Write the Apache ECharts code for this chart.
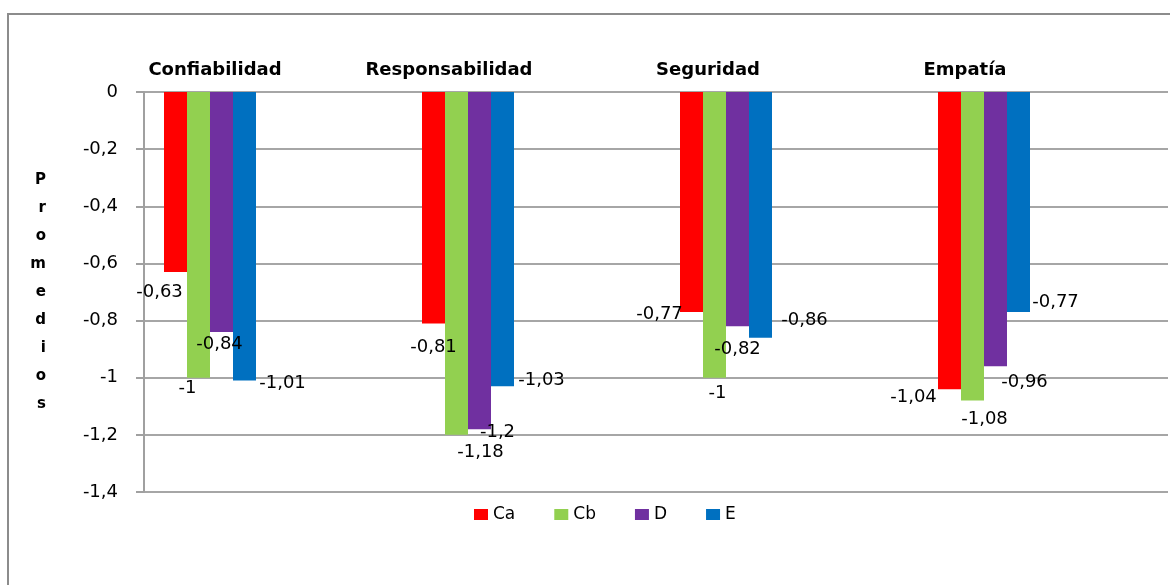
<!DOCTYPE html>
<html>
<head>
<meta charset="utf-8">
<script src="https://cdn.jsdelivr.net/npm/echarts@6/dist/echarts.min.js"></script>
<style>
  html, body { margin: 0; padding: 0; background: #ffffff; }
  #chart { width: 1170px; height: 585px; }
</style>
</head>
<body>
<div id="chart"></div>
<script>
// Dimensions of service quality
const categories = ['Confiabilidad', 'Responsabilidad', 'Seguridad', 'Empatía'];

// Average gap per group
const seriesNames = ['Ca', 'Cb', 'D', 'E'];
const valuesCa = [-0.63, -0.81, -0.77, -1.04];
const valuesCb = [-1, -1.2, -1, -1.08];
const valuesD  = [-0.84, -1.18, -0.82, -0.96];
const valuesE  = [-1.01, -1.03, -0.86, -0.77];

// Value axis ticks
const yMin = -1.4;
const yMax = 0;
const yStep = 0.2;

const colors = ['#FF0000', '#92D050', '#7030A0', '#0070C0'];

// Nudges for the value labels so they do not collide
const labelOffsets = [
  [[-16, 6], [0, 10], [-32, -12], [-36, -6]],
  [[-11, -3], [41, -17], [3, 2], [12, 5]],
  [[-2, -2], [1, 9], [0, 9], [29, 2]],
  [[38, -11], [39, -20], [44, -31], [37, -24]]
];

// Horizontal padding of the category titles [left, right]
const titlePadding = [[10, 0], [0, 38], [0, 36], [0, 38]];

const allValues = [valuesCa, valuesCb, valuesD, valuesE];
const FONT = '"DejaVu Sans", Verdana, sans-serif';
const fmt = v => String(v).replace('.', ',');

const titleRich = {};
titlePadding.forEach((p, i) => {
  titleRich['c' + i] = {
    color: '#000',
    fontFamily: FONT,
    fontSize: 18,
    fontWeight: 'bold',
    padding: [0, p[1], 0, p[0]]
  };
});

const series = seriesNames.map((name, s) => ({
  name: name,
  type: 'bar',
  xAxisIndex: 1,
  yAxisIndex: 1,
  barWidth: 23,
  barGap: '0%',
  itemStyle: { color: colors[s] },
  data: allValues[s].map((v, i) => ({
    value: v,
    label: { offset: labelOffsets[s][i] }
  })),
  label: {
    show: true,
    position: 'bottom',
    distance: 5,
    color: '#000',
    fontFamily: FONT,
    fontSize: 18,
    formatter: p => fmt(p.value)
  }
}));

const chart = echarts.init(document.getElementById('chart'), null, { renderer: 'canvas' });
chart.setOption({
  animation: false,
  backgroundColor: '#ffffff',
  graphic: [{
    type: 'rect',
    shape: { x: 8, y: 14, width: 1180, height: 600 },
    style: { fill: 'none', stroke: '#8c8c8c', lineWidth: 2 },
    silent: true,
    z: -10
  }],
  legend: {
    data: seriesNames,
    left: 469,
    top: 501,
    itemWidth: 14,
    itemHeight: 11,
    itemGap: 39,
    icon: 'rect',
    textStyle: { fontFamily: FONT, fontSize: 17, color: '#000' }
  },
  grid: [
    { left: 144, right: 2, top: 92, bottom: 93 },
    { left: 81, right: 57, top: 92, bottom: 93 }
  ],
  xAxis: [
    { gridIndex: 0, type: 'value', show: false },
    {
      gridIndex: 1,
      type: 'category',
      position: 'top',
      data: categories,
      axisLine: { show: false },
      axisTick: { show: false },
      axisLabel: {
        interval: 0,
        hideOverlap: false,
        margin: 13,
        color: '#000',
        fontFamily: FONT,
        fontSize: 18,
        fontWeight: 'bold',
        formatter: (value, index) => '{c' + index + '|' + value + '}',
        rich: titleRich
      }
    }
  ],
  yAxis: [
    {
      gridIndex: 0,
      type: 'value',
      min: yMin,
      max: yMax,
      interval: yStep,
      name: 'P\nr\no\nm\ne\nd\ni\no\ns',
      nameLocation: 'middle',
      nameRotate: 0,
      nameGap: 98,
      nameTextStyle: {
        fontFamily: FONT,
        fontSize: 15,
        fontWeight: 'bold',
        color: '#000',
        lineHeight: 28
      },
      axisLine: { show: true, lineStyle: { color: '#a0a0a0', width: 2 } },
      axisTick: { show: true, length: 8, lineStyle: { color: '#a0a0a0', width: 2 } },
      splitLine: { show: true, lineStyle: { color: '#a6a6a6', width: 2 } },
      axisLabel: {
        margin: 26,
        color: '#000',
        fontFamily: FONT,
        fontSize: 18,
        formatter: v => fmt(Math.round(v * 10) / 10)
      }
    },
    {
      gridIndex: 1,
      type: 'value',
      min: yMin,
      max: yMax,
      interval: yStep,
      show: false,
      splitLine: { show: false }
    }
  ],
  series: series
});
</script>
</body>
</html>
